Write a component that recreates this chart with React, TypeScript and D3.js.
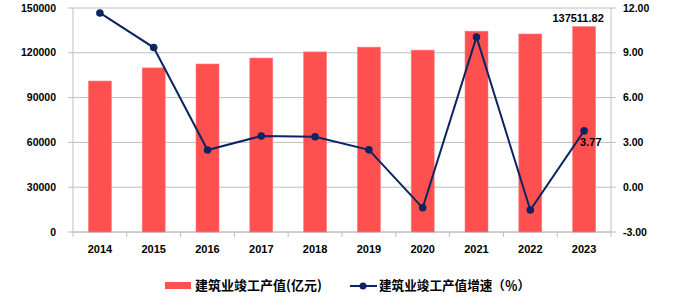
import React from "react";
import * as d3 from "d3";

const years = ["2014", "2015", "2016", "2017", "2018", "2019", "2020", "2021", "2022", "2023"];
const outputValues = [101100, 109900, 112500, 116500, 120600, 123800, 121800, 134500, 132600, 137511.82];
const growthRates = [11.67, 9.35, 2.49, 3.43, 3.38, 2.5, -1.38, 10.06, -1.53, 3.77];
const leftTicks = [0, 30000, 60000, 90000, 120000, 150000];
const rightTicks = [-3, 0, 3, 6, 9, 12];
const barLabel = "137511.82";
const lineLabel = "3.77";
const legendBar = "建筑业竣工产值(亿元)";
const legendLine = "建筑业竣工产值增速（％）";

const W = 697, H = 308;
const L = 73, R = 611, T = 8, B = 232;
const BAR = "#FF5050";
const LINE = "#0C2461";
const GRID = "#BEBEBE";
const FONT = "'Liberation Sans', Arial, sans-serif";
const CJK = "'Noto Sans CJK SC', sans-serif";

export default function App() {
  const x = d3.scaleBand<string>().domain(years).range([L, R]).paddingInner(0).paddingOuter(0);
  const yL = d3.scaleLinear().domain([0, 150000]).range([B, T]);
  const yR = d3.scaleLinear().domain([-3, 12]).range([B, T]);
  const bw = 23;
  const cx = (d: string) => (x(d) as number) + x.bandwidth() / 2;
  const line = d3.line<number>().x((_, i) => cx(years[i])).y((v) => yR(v));
  const last = years.length - 1;

  return (
    <svg width={W} height={H} style={{ position: "absolute", left: 0, top: 0, background: "#fff" }}>
      {leftTicks.map((t) => (
        <g key={"g" + t}>
          <line x1={L - 5} x2={R} y1={yL(t)} y2={yL(t)} stroke={GRID} strokeWidth={1} />
          <text x={56} y={yL(t)} dy="0.35em" textAnchor="end" fontFamily={FONT} fontWeight="bold" fontSize={10.5} fill="#000">
            {t}
          </text>
        </g>
      ))}
      {rightTicks.map((t) => (
        <g key={"r" + t}>
          <line x1={R} x2={R + 5} y1={yR(t)} y2={yR(t)} stroke={GRID} strokeWidth={1} />
          <text x={623} y={yR(t)} dy="0.35em" textAnchor="start" fontFamily={FONT} fontWeight="bold" fontSize={10.5} fill="#000">
            {t.toFixed(2)}
          </text>
        </g>
      ))}
      <line x1={L} x2={L} y1={T} y2={B} stroke={GRID} />
      <line x1={R} x2={R} y1={T} y2={B + 5} stroke={GRID} />
      <line x1={L} x2={R} y1={B} y2={B} stroke={GRID} />
      {years.map((d) => (
        <line key={"xt" + d} x1={x(d) as number} x2={x(d) as number} y1={B} y2={B + 5} stroke={GRID} />
      ))}
      {years.map((d, i) => (
        <rect key={"b" + d} x={cx(d) - bw / 2} y={yL(outputValues[i])} width={bw} height={B - yL(outputValues[i])} fill={BAR} stroke="#FF8080" strokeWidth={0.6} />
      ))}
      {years.map((d) => (
        <text key={"xl" + d} x={cx(d)} y={253} textAnchor="middle" fontFamily={FONT} fontWeight="bold" fontSize={11} fill="#000">
          {d}
        </text>
      ))}
      <path d={line(growthRates) as string} fill="none" stroke={LINE} strokeWidth={2} />
      {growthRates.map((v, i) => (
        <circle key={"c" + i} cx={cx(years[i])} cy={yR(v)} r={3.8} fill={LINE} />
      ))}
      <text x={cx(years[last]) - 6} y={yL(outputValues[last]) - 5} textAnchor="middle" fontFamily={FONT} fontWeight="bold" fontSize={11} fill="#000">
        {barLabel}
      </text>
      <text x={cx(years[last]) - 4} y={yR(growthRates[last]) + 15} textAnchor="start" fontFamily={FONT} fontWeight="bold" fontSize={11} fill="#000">
        {lineLabel}
      </text>
      <rect x={165} y={282} width={26} height={7} fill={BAR} />
      <text x={195} y={290} fontFamily={CJK} fontWeight="bold" fontSize={13} fill="#000">
        {legendBar}
      </text>
      <line x1={350} x2={377} y1={286} y2={286} stroke={LINE} strokeWidth={2} />
      <circle cx={363} cy={286} r={3.5} fill={LINE} />
      <text x={379} y={290} fontFamily={CJK} fontWeight="bold" fontSize={12.6} fill="#000">
        {legendLine}
      </text>
    </svg>
  );
}
